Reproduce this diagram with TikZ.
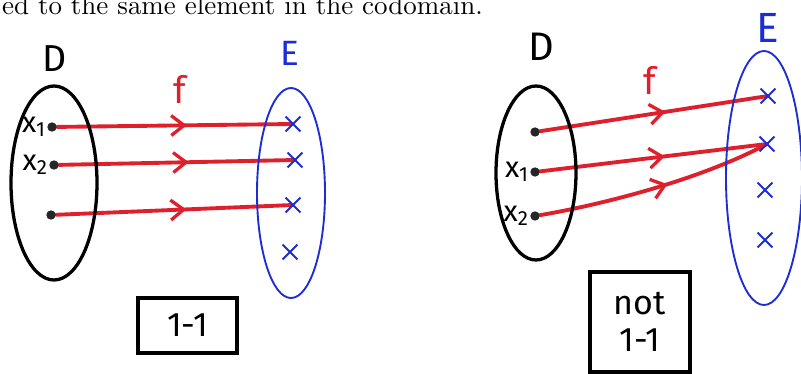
\documentclass[tikz,border=0pt]{standalone}
\usepackage{fontspec}
\setsansfont{Fira Sans}
\newfontfamily\capfont{lmroman10-regular.otf}
\usetikzlibrary{shapes.geometric,shapes.misc,decorations.markings,arrows.meta,positioning,backgrounds}
\definecolor{penred}{RGB}{222,32,44}
\definecolor{penblue}{RGB}{28,44,214}

\begin{document}
\begin{tikzpicture}[x=0.03cm, y=-0.03cm,
    every node/.style={font=\sffamily},
    domset/.style={draw, ellipse, line width=2.8pt, inner sep=0pt},
    codset/.style={draw=penblue, ellipse, line width=1.6pt, inner sep=0pt},
    elem/.style={circle, fill=black!85, inner sep=0pt, minimum size=8pt},
    img/.style={cross out, draw=penblue, line width=1.6pt, inner sep=0pt, minimum size=11pt},
    setname/.style={inner sep=0pt, font=\sffamily\fontsize{32}{32}\selectfont},
    ptname/.style={inner sep=0pt, font=\sffamily\fontsize{25}{25}\selectfont},
    map/.style={draw=penred, line width=3.3pt, line cap=round, postaction={decorate},
      decoration={markings, mark=at position #1 with {\arrow{Straight Barb[color=penred, length=11pt, width=17pt, line width=2.8pt]}}}},
    map/.default=0.55,
    tag/.style={draw, line width=3pt, align=center, font=\sffamily\fontsize{29}{32}\selectfont}]
    \clip (0,0) rectangle (801,374);
    \node[anchor=base east, inner sep=0pt, font=\capfont\fontsize{23}{26}\selectfont] (caption) at (483,15) {ed to the same element in the codomain.};
    % Left: one-to-one
    \node[domset, minimum width=2.58cm, minimum height=5.82cm] (D1) at (54,183) {};
    \node[codset, minimum width=2.04cm, minimum height=6.3cm] (E1) at (291,193) {};
    \node[setname] (nD1) at (55,59) {D};
    \node[setname, text=penblue, font=\sffamily\fontsize{30}{30}\selectfont] (nE1) at (290,53) {E};
    \node[setname, text=penred] (f1) at (180,89) {f};
    \node[elem] (a1) at (52,127) {};
    \node[elem] (a2) at (54,165) {};
    \node[elem] (a3) at (51,215) {};
    \node[ptname, left=1pt of a1] (la1) {x\textsubscript{1}};
    \node[ptname, left=1pt of a2] (la2) {x\textsubscript{2}};
    \node[img] (b1) at (293,124) {};
    \node[img] (b2) at (295,160) {};
    \node[img] (b3) at (293,205) {};
    \node[img] (b4) at (290,252) {};
    \node[tag, minimum width=2.97cm, minimum height=1.65cm] (t1) at (187.5,325.5) {1-1};
    % Right: not one-to-one
    \node[domset, minimum width=2.4cm, minimum height=5.22cm] (D2) at (536,173) {};
    \node[codset, minimum width=2.28cm, minimum height=7.62cm] (E2) at (764,178) {};
    \node[setname, font=\sffamily\fontsize{34}{34}\selectfont] (nD2) at (541,47) {D};
    \node[setname, text=penblue, font=\sffamily\fontsize{36}{36}\selectfont] (nE2) at (768,28) {E};
    \node[setname, text=penred] (f2) at (650,80) {f};
    \node[elem] (c1) at (535,132) {};
    \node[elem] (c2) at (535,172) {};
    \node[elem] (c3) at (535,216) {};
    \node[ptname, left=1pt of c2] (lc2) {x\textsubscript{1}};
    \node[ptname, left=1pt of c3] (lc3) {x\textsubscript{2}};
    \node[img] (e1) at (768,96) {};
    \node[img] (e2) at (767,144) {};
    \node[img] (e3) at (765,190) {};
    \node[img] (e4) at (765,240) {};
    \node[tag, minimum width=3cm, minimum height=3cm] (t2) at (640,322) {not\\1-1};
    % Maps
    \begin{scope}[on background layer]
    \draw[map] (a1) -- (b1.center);
    \draw[map] (a2) -- (b2.center);
    \draw[map] (a3) -- (b3.center);
    \draw[map] (c1) -- (e1.center);
    \draw[map] (c2) -- (e2.center);
    \draw[map] (c3) .. controls (600,205) and (700,180) .. (e2.center);
    \end{scope}
\end{tikzpicture}
\end{document}
